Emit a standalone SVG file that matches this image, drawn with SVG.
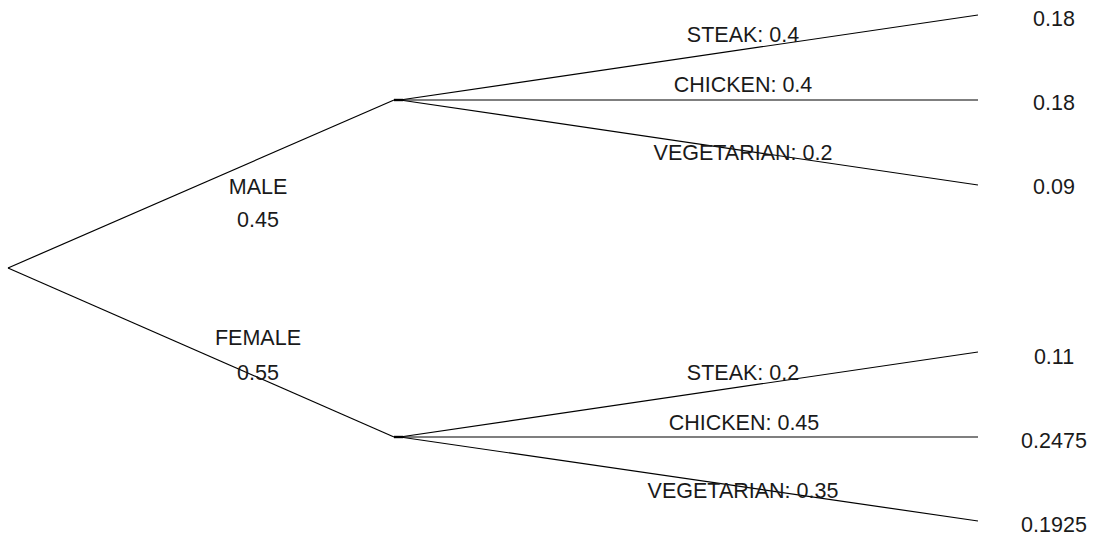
<svg xmlns="http://www.w3.org/2000/svg" width="1094" height="539" viewBox="0 0 1094 539">
  <style>
    .edge { stroke: #000; stroke-width: 1.2; fill: none; }
    .stub { stroke: #000; stroke-width: 2.4; fill: none; }
    text { font-family: "Liberation Sans", Arial, sans-serif; font-size: 21.5px; fill: #1a1a1a; text-anchor: middle; }
  </style>
  <rect width="1094" height="539" fill="#fff"/>

  <!-- tree branches -->
  <g id="connectors">
    <path class="edge" d="M8,268 L394,100"/>
    <path class="edge" d="M8,268 L394,437"/>
    <path class="stub" d="M394,100 L403,100"/>
    <path class="stub" d="M394,437 L403,437"/>
    <path class="edge" d="M400,100 L978,15"/>
    <path class="edge" d="M400,100 L978,100"/>
    <path class="edge" d="M400,100 L978,185"/>
    <path class="edge" d="M400,437 L978,352"/>
    <path class="edge" d="M400,437 L978,437"/>
    <path class="edge" d="M400,437 L978,521"/>
  </g>

  <!-- first split -->
  <g id="male">
    <text x="258" y="194">MALE</text>
    <text x="258" y="227">0.45</text>
  </g>
  <g id="female">
    <text x="258" y="345">FEMALE</text>
    <text x="258" y="380">0.55</text>
  </g>

  <!-- male choices -->
  <g id="male-steak">
    <text x="743" y="42">STEAK: 0.4</text>
    <text x="1054" y="26">0.18</text>
  </g>
  <g id="male-chicken">
    <text x="743" y="92">CHICKEN: 0.4</text>
    <text x="1054" y="110">0.18</text>
  </g>
  <g id="male-vegetarian">
    <text x="743" y="160">VEGETARIAN: 0.2</text>
    <text x="1054" y="194">0.09</text>
  </g>

  <!-- female choices -->
  <g id="female-steak">
    <text x="743" y="380">STEAK: 0.2</text>
    <text x="1054" y="364">0.11</text>
  </g>
  <g id="female-chicken">
    <text x="744" y="430">CHICKEN: 0.45</text>
    <text x="1054" y="448">0.2475</text>
  </g>
  <g id="female-vegetarian">
    <text x="743" y="498">VEGETARIAN: 0.35</text>
    <text x="1054" y="532">0.1925</text>
  </g>
</svg>
